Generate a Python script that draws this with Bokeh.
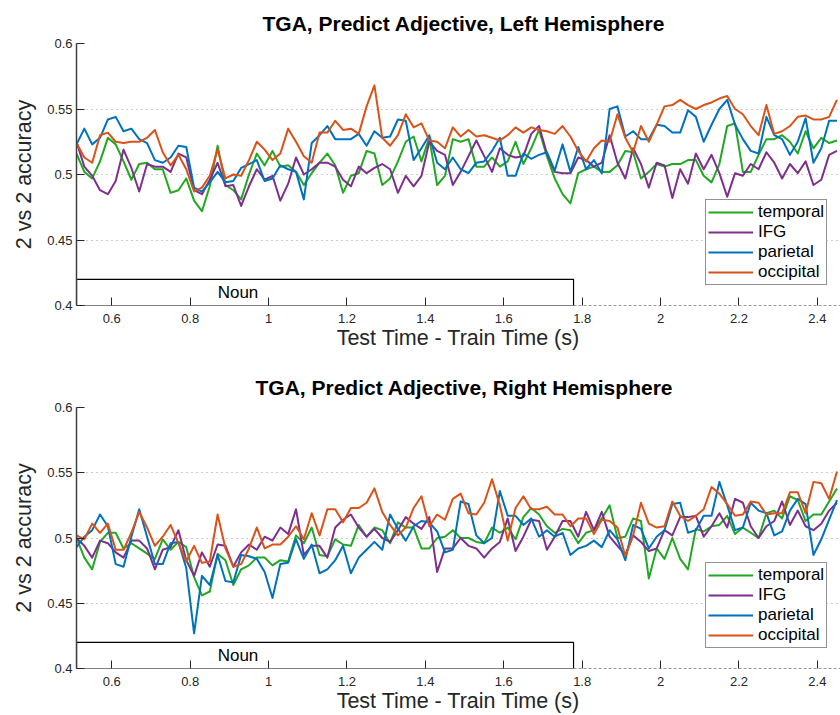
from bokeh.plotting import figure
from bokeh.layouts import column
from bokeh.models import FixedTicker, Range1d, Title
from bokeh.embed import file_html
from bokeh.resources import INLINE
from bokeh.core.properties import value

# ---------------- data ----------------
time_start = 0.51
time_step = 0.02
n_points = 98
times = [round(time_start + time_step * i, 2) for i in range(n_points)]

x_ticks = [0.6, 0.8, 1.0, 1.2, 1.4, 1.6, 1.8, 2.0, 2.2, 2.4]
x_tick_labels = ["0.6", "0.8", "1", "1.2", "1.4", "1.6", "1.8", "2", "2.2", "2.4"]
y_ticks = [0.4, 0.45, 0.5, 0.55, 0.6]
y_tick_labels = ["0.4", "0.45", "0.5", "0.55", "0.6"]

series_names = ["temporal", "IFG", "parietal", "occipital"]
series_colors = ["#22A722", "#7E2F8E", "#0072BD", "#D95319"]

noun_start = 0.51
noun_end = 1.778
noun_label_x = 0.922
noun_bottom = 0.40
noun_top = 0.42

left_temporal = [
    0.516, 0.502, 0.497, 0.510, 0.528, 0.523, 0.510, 0.496, 0.508, 0.509, 0.504, 0.504, 0.486, 0.488, 0.497, 0.480, 0.472,
    0.491, 0.522, 0.492, 0.488, 0.481, 0.500, 0.516, 0.507, 0.518, 0.506, 0.507, 0.502, 0.492, 0.501, 0.509, 0.516, 0.507,
    0.486, 0.499, 0.501, 0.518, 0.516, 0.492, 0.497, 0.510, 0.525, 0.529, 0.510, 0.528, 0.492, 0.499, 0.527, 0.525,
    0.527, 0.506, 0.506, 0.513, 0.506, 0.510, 0.525, 0.508, 0.520, 0.534, 0.514, 0.497, 0.485, 0.478, 0.501, 0.504,
    0.506, 0.502, 0.502, 0.507, 0.518, 0.517, 0.497, 0.502, 0.508, 0.506, 0.508, 0.508, 0.511, 0.511, 0.499, 0.494,
    0.508, 0.537, 0.539, 0.502, 0.502, 0.515, 0.527, 0.527, 0.530, 0.525, 0.516, 0.533, 0.520, 0.528, 0.524, 0.526]
left_ifg = [
    0.525, 0.506, 0.499, 0.488, 0.485, 0.495, 0.519, 0.505, 0.487, 0.508, 0.506, 0.506, 0.502, 0.516, 0.513, 0.488, 0.485,
    0.496, 0.509, 0.491, 0.492, 0.476, 0.491, 0.504, 0.496, 0.499, 0.480, 0.493, 0.513, 0.500, 0.504, 0.509, 0.509, 0.506,
    0.496, 0.491, 0.506, 0.501, 0.505, 0.508, 0.504, 0.486, 0.499, 0.491, 0.499, 0.525, 0.518, 0.515, 0.492, 0.502,
    0.514, 0.526, 0.514, 0.502, 0.520, 0.515, 0.513, 0.514, 0.531, 0.537, 0.516, 0.502, 0.501, 0.501, 0.513, 0.511,
    0.506, 0.509, 0.530, 0.509, 0.497, 0.520, 0.508, 0.490, 0.509, 0.507, 0.482, 0.504, 0.493, 0.516, 0.504, 0.515,
    0.501, 0.483, 0.501, 0.499, 0.508, 0.504, 0.517, 0.509, 0.497, 0.508, 0.501, 0.510, 0.492, 0.496, 0.515, 0.518]
left_parietal = [
    0.523, 0.535, 0.523, 0.528, 0.542, 0.544, 0.533, 0.535, 0.527, 0.524, 0.511, 0.509, 0.513, 0.522, 0.521, 0.490, 0.487,
    0.494, 0.502, 0.494, 0.495, 0.505, 0.508, 0.511, 0.495, 0.497, 0.507, 0.504, 0.502, 0.481, 0.524, 0.530, 0.537, 0.527,
    0.527, 0.527, 0.531, 0.522, 0.533, 0.528, 0.529, 0.542, 0.541, 0.511, 0.520, 0.530, 0.509, 0.504, 0.513, 0.504,
    0.501, 0.509, 0.510, 0.518, 0.528, 0.499, 0.499, 0.516, 0.512, 0.515, 0.517, 0.503, 0.523, 0.502, 0.521, 0.504,
    0.511, 0.501, 0.550, 0.552, 0.529, 0.533, 0.527, 0.527, 0.538, 0.537, 0.532, 0.532, 0.549, 0.544, 0.525, 0.538,
    0.550, 0.557, 0.538, 0.527, 0.518, 0.516, 0.544, 0.530, 0.527, 0.515, 0.525, 0.543, 0.509, 0.520, 0.541, 0.541]
left_occipital = [
    0.524, 0.513, 0.509, 0.530, 0.532, 0.525, 0.524, 0.525, 0.525, 0.528, 0.534, 0.517, 0.507, 0.515, 0.504, 0.487, 0.490,
    0.499, 0.519, 0.497, 0.500, 0.499, 0.511, 0.525, 0.519, 0.511, 0.516, 0.535, 0.525, 0.514, 0.509, 0.532, 0.532, 0.541,
    0.534, 0.535, 0.531, 0.552, 0.568, 0.528, 0.522, 0.530, 0.546, 0.536, 0.539, 0.526, 0.525, 0.520, 0.536, 0.529,
    0.534, 0.529, 0.530, 0.528, 0.526, 0.530, 0.536, 0.532, 0.536, 0.534, 0.533, 0.531, 0.537, 0.529, 0.518, 0.510,
    0.520, 0.526, 0.525, 0.546, 0.528, 0.517, 0.537, 0.525, 0.538, 0.552, 0.553, 0.557, 0.553, 0.550, 0.553, 0.555,
    0.558, 0.560, 0.550, 0.546, 0.537, 0.530, 0.553, 0.531, 0.533, 0.537, 0.544, 0.545, 0.542, 0.542, 0.544, 0.557]

right_temporal = [
    0.500, 0.485, 0.476, 0.497, 0.504, 0.504, 0.492, 0.496, 0.492, 0.488, 0.484, 0.499, 0.491, 0.497, 0.493, 0.470, 0.456,
    0.459, 0.488, 0.483, 0.464, 0.476, 0.479, 0.485, 0.485, 0.479, 0.483, 0.482, 0.502, 0.496, 0.508, 0.487, 0.486, 0.499,
    0.495, 0.494, 0.510, 0.501, 0.508, 0.506, 0.496, 0.512, 0.508, 0.508, 0.492, 0.492, 0.500, 0.501, 0.506, 0.500,
    0.500, 0.497, 0.496, 0.508, 0.504, 0.508, 0.499, 0.516, 0.523, 0.518, 0.509, 0.504, 0.507, 0.506, 0.496, 0.504,
    0.506, 0.515, 0.525, 0.500, 0.501, 0.515, 0.513, 0.469, 0.492, 0.484, 0.500, 0.484, 0.476, 0.507, 0.505, 0.509,
    0.510, 0.517, 0.503, 0.508, 0.504, 0.500, 0.519, 0.521, 0.515, 0.532, 0.529, 0.513, 0.518, 0.518, 0.528, 0.538]
right_ifg = [
    0.500, 0.494, 0.485, 0.498, 0.496, 0.489, 0.485, 0.498, 0.498, 0.492, 0.476, 0.491, 0.493, 0.506, 0.483, 0.471, 0.489,
    0.478, 0.495, 0.494, 0.478, 0.489, 0.495, 0.491, 0.501, 0.498, 0.508, 0.503, 0.522, 0.487, 0.494, 0.494, 0.485, 0.508,
    0.514, 0.518, 0.508, 0.501, 0.507, 0.500, 0.497, 0.506, 0.516, 0.511, 0.507, 0.516, 0.474, 0.492, 0.492, 0.500,
    0.494, 0.492, 0.485, 0.492, 0.497, 0.515, 0.490, 0.501, 0.514, 0.513, 0.491, 0.501, 0.513, 0.513, 0.501, 0.520,
    0.506, 0.520, 0.501, 0.494, 0.487, 0.502, 0.497, 0.490, 0.492, 0.506, 0.502, 0.516, 0.516, 0.517, 0.501, 0.509,
    0.519, 0.508, 0.530, 0.527, 0.509, 0.500, 0.509, 0.513, 0.528, 0.510, 0.521, 0.509, 0.506, 0.511, 0.521, 0.527]
right_parietal = [
    0.493, 0.501, 0.506, 0.518, 0.509, 0.480, 0.478, 0.501, 0.522, 0.501, 0.480, 0.480, 0.496, 0.497, 0.477, 0.427, 0.471,
    0.464, 0.487, 0.467, 0.466, 0.487, 0.486, 0.484, 0.474, 0.454, 0.480, 0.481, 0.499, 0.484, 0.495, 0.473, 0.476, 0.483,
    0.494, 0.473, 0.485, 0.491, 0.497, 0.491, 0.518, 0.507, 0.498, 0.509, 0.513, 0.512, 0.505, 0.489, 0.491, 0.528,
    0.526, 0.502, 0.496, 0.500, 0.536, 0.517, 0.517, 0.510, 0.515, 0.501, 0.506, 0.501, 0.504, 0.487, 0.492, 0.494,
    0.498, 0.493, 0.506, 0.499, 0.483, 0.510, 0.507, 0.492, 0.501, 0.506, 0.526, 0.527, 0.504, 0.506, 0.517, 0.517,
    0.543, 0.525, 0.506, 0.508, 0.527, 0.521, 0.519, 0.502, 0.505, 0.521, 0.530, 0.526, 0.487, 0.499, 0.514, 0.529]
right_occipital = [
    0.502, 0.499, 0.511, 0.504, 0.511, 0.491, 0.491, 0.504, 0.520, 0.508, 0.494, 0.501, 0.510, 0.496, 0.482, 0.494, 0.481,
    0.482, 0.518, 0.492, 0.478, 0.480, 0.492, 0.508, 0.492, 0.495, 0.495, 0.501, 0.509, 0.499, 0.519, 0.502, 0.522, 0.522,
    0.512, 0.523, 0.523, 0.527, 0.538, 0.520, 0.510, 0.502, 0.508, 0.523, 0.532, 0.509, 0.518, 0.514, 0.530, 0.534,
    0.519, 0.518, 0.527, 0.545, 0.525, 0.498, 0.523, 0.532, 0.522, 0.522, 0.524, 0.518, 0.518, 0.509, 0.515, 0.515,
    0.503, 0.514, 0.513, 0.508, 0.486, 0.502, 0.527, 0.511, 0.508, 0.509, 0.528, 0.517, 0.513, 0.517, 0.522, 0.539,
    0.534, 0.526, 0.517, 0.518, 0.528, 0.527, 0.518, 0.519, 0.519, 0.535, 0.535, 0.519, 0.543, 0.542, 0.530, 0.551]

FONT = "Liberation Sans"


def make_panel(title_text, title_offset, series, frame_h, border_top, border_bottom, label_standoff):
    p = figure(frame_width=764, frame_height=frame_h,
               x_range=Range1d(0.51, 2.459), y_range=Range1d(0.4, 0.6),
               output_backend="svg", toolbar_location=None,
               min_border_left=76, min_border_right=0,
               min_border_top=border_top, min_border_bottom=border_bottom,
               background_fill_color="white", border_fill_color="white")
    p.outline_line_color = None
    p.title = Title(text=title_text, align="left", offset=title_offset,
                    vertical_align="middle", standoff=16,
                    text_font=FONT, text_font_size="21px",
                    text_font_style="bold", text_color="black")

    # axes
    p.xaxis.ticker = FixedTicker(ticks=x_ticks)
    p.xaxis.major_label_overrides = {t: l for t, l in zip(x_ticks, x_tick_labels)}
    p.yaxis.ticker = FixedTicker(ticks=y_ticks)
    p.yaxis.major_label_overrides = {t: l for t, l in zip(y_ticks, y_tick_labels)}
    for ax in (p.xaxis, p.yaxis):
        ax.major_tick_in = 8
        ax.major_tick_out = 0
        ax.minor_tick_line_color = None
        ax.major_tick_line_color = "#262626"
        ax.major_tick_line_width = 1
        ax.major_label_text_font = FONT
        ax.major_label_text_font_size = "13px"
        ax.major_label_text_color = "#262626"
        ax.axis_label_text_font = FONT
        ax.axis_label_text_font_size = "21.5px"
        ax.axis_label_text_font_style = "normal"
        ax.axis_label_text_color = "#262626"
    p.xaxis.axis_line_color = None
    p.xaxis.major_label_standoff = 8
    p.xaxis.axis_label = "Test Time - Train Time (s)"
    p.xaxis.axis_label_standoff = label_standoff
    p.yaxis.axis_line_color = "#404040"
    p.yaxis.axis_line_width = 1.5
    p.yaxis.major_label_standoff = 4
    p.yaxis.axis_label = "2 vs 2 accuracy"
    p.yaxis.axis_label_standoff = 8

    # grid
    p.xgrid.grid_line_color = None
    p.ygrid.ticker = FixedTicker(ticks=y_ticks[1:])
    p.ygrid.grid_line_color = "#9a9a9a"
    p.ygrid.grid_line_dash = "1 4"
    p.ygrid.grid_line_width = 1

    # series
    for name, color, vals in zip(series_names, series_colors, series):
        p.line(times, vals, line_color=color, line_width=2, line_join="round",
               legend_label=name)

    # noun box and dashed continuation
    p.quad(left=[noun_start], right=[noun_end], bottom=[noun_bottom], top=[noun_top],
           fill_color=None, line_color="black", line_width=1.2)
    p.line([noun_end, 2.6], [noun_bottom, noun_bottom], line_color="#333333",
           line_width=1.2, line_dash="3 2")
    p.text(x=[noun_label_x], y=[(noun_bottom + noun_top) / 2], text=["Noun"],
           text_align="center", text_baseline="middle",
           text_font=value(FONT), text_font_size="17px", text_color="black")

    lg = p.legend[0]
    lg.location = (629, 20)
    lg.label_text_font = FONT
    lg.label_text_font_size = "17px"
    lg.label_text_line_height = 1.0
    lg.label_text_color = "black"
    lg.glyph_width = 45
    lg.glyph_height = 18
    lg.label_height = 18
    lg.label_standoff = 5
    lg.spacing = 0
    lg.padding = 2
    lg.margin = 0
    lg.border_line_color = "#262626"
    lg.border_line_width = 1
    lg.background_fill_color = "white"
    lg.background_fill_alpha = 1.0
    return p


p1 = make_panel("TGA, Predict Adjective, Left Hemisphere", 186,
                [left_temporal, left_ifg, left_parietal, left_occipital],
                262, 43, 60, 0)
p2 = make_panel("TGA, Predict Adjective, Right Hemisphere", 179,
                [right_temporal, right_ifg, right_parietal, right_occipital],
                261, 42, 46, 0)

layout = column(p1, p2, spacing=0)
open("out.html", "w").write(file_html(layout, INLINE))
